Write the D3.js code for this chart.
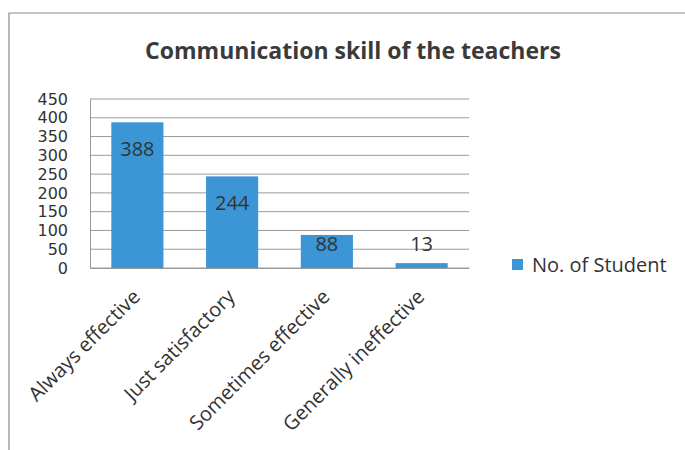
<!DOCTYPE html>
<html>
<head>
<meta charset="utf-8">
<script src="https://cdn.jsdelivr.net/npm/d3@7"></script>
<style>
  body { margin: 0; background: #fff; }
  svg { display: block; font-family: "Open Sans", "Noto Sans", sans-serif; }
</style>
</head>
<body>
<div id="chart"></div>
<script>
// Datos del gráfico
const categories = ["Always effective", "Just satisfactory", "Sometimes effective", "Generally ineffective"];
const students = [388, 244, 88, 13];
const yTicks = [0, 50, 100, 150, 200, 250, 300, 350, 400, 450];
const seriesName = "No. of Student";

const width = 685;
const height = 450;
const barColor = "#3c95d5";
const gridColor = "#9a9a9a";
const textColor = "#333";

const svg = d3.select("#chart")
    .append("svg")
    .attr("width", width)
    .attr("height", height);

// Marco del gráfico
svg.append("path")
    .attr("d", "M9,450 L9,13 L685,13")
    .attr("fill", "none")
    .attr("stroke", "#8a8a8a")
    .attr("stroke-width", 1.2);

// Título
svg.append("text")
    .attr("x", 353)
    .attr("y", 59)
    .attr("text-anchor", "middle")
    .attr("font-size", 23)
    .attr("font-weight", "bold")
    .attr("fill", "#3a3a3a")
    .text("Communication skill of the teachers");

const plot = { left: 90, right: 469, top: 99, bottom: 268 };

const x = d3.scaleBand()
    .domain(categories)
    .range([plot.left, plot.right])
    .paddingInner(0.45)
    .paddingOuter(0.225);

const y = d3.scaleLinear()
    .domain([0, 450])
    .range([plot.bottom, plot.top]);

// Líneas de la cuadrícula
svg.append("g")
    .selectAll("line")
    .data(yTicks)
    .enter().append("line")
    .attr("x1", plot.left)
    .attr("x2", plot.right)
    .attr("y1", d => y(d))
    .attr("y2", d => y(d))
    .attr("stroke", gridColor)
    .attr("stroke-width", 1);

// Eje Y (fuente compacta para que las etiquetas no se pisen)
const yAxis = svg.append("g")
    .attr("transform", `translate(${plot.left},0)`)
    .call(d3.axisLeft(y).tickValues(yTicks).tickSize(0).tickPadding(22));
yAxis.select(".domain").attr("stroke", gridColor);
yAxis.selectAll("text")
    .attr("font-size", 16)
    .attr("font-family", "DejaVu Sans, sans-serif")
    .attr("fill", textColor);

// Barras
svg.selectAll("rect.bar")
    .data(students)
    .enter().append("rect")
    .attr("class", "bar")
    .attr("x", (d, i) => x(categories[i]))
    .attr("y", d => y(d))
    .attr("width", x.bandwidth())
    .attr("height", d => y(0) - y(d))
    .attr("fill", barColor);

// Etiquetas de valores
svg.selectAll("text.value")
    .data(students)
    .enter().append("text")
    .attr("class", "value")
    .attr("x", (d, i) => x(categories[i]) + x.bandwidth() / 2)
    .attr("y", d => Math.min(y(d) + 27, 244))
    .attr("dy", "0.35em")
    .attr("text-anchor", "middle")
    .attr("font-size", 20)
    .attr("fill", textColor)
    .text(d => d);

// Eje X
const xAxis = svg.append("g")
    .attr("transform", `translate(0,${plot.bottom})`)
    .call(d3.axisBottom(x).tickSize(0).tickFormat(""));
xAxis.select(".domain").attr("stroke", gridColor);

svg.selectAll("text.cat")
    .data(categories)
    .enter().append("text")
    .attr("class", "cat")
    .attr("transform", d => `translate(${x(d) + x.bandwidth() / 2 + 4},${plot.bottom + 30}) rotate(-45)`)
    .attr("text-anchor", "end")
    .attr("font-size", 20)
    .attr("fill", textColor)
    .text(d => d);

// Leyenda
const legend = svg.append("g")
    .attr("transform", "translate(512,259)");
legend.append("rect")
    .attr("width", 11)
    .attr("height", 11)
    .attr("fill", barColor);
legend.append("text")
    .attr("x", 20)
    .attr("y", 5.5)
    .attr("dy", "0.35em")
    .attr("font-size", 20)
    .attr("fill", textColor)
    .text(seriesName);
</script>
</body>
</html>
